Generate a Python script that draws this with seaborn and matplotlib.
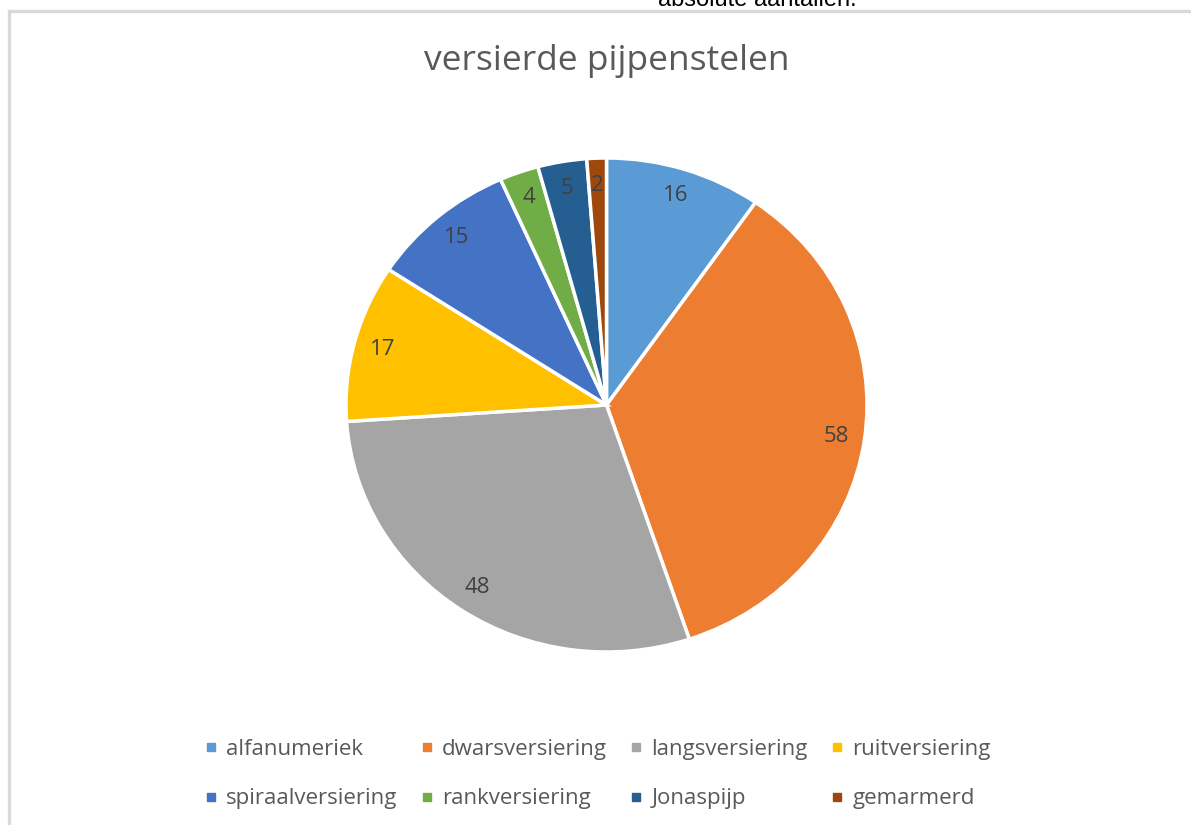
import matplotlib
matplotlib.use("Agg")
import matplotlib.pyplot as plt
from matplotlib.lines import Line2D
from matplotlib.patches import Rectangle
import seaborn as sns

categories = ["alfanumeriek", "dwarsversiering", "langsversiering", "ruitversiering",
              "spiraalversiering", "rankversiering", "Jonaspijp", "gemarmerd"]
counts = [16, 58, 48, 17, 15, 4, 5, 2]
colors = ["#5B9BD5", "#ED7D31", "#A5A5A5", "#FFC000",
          "#4472C4", "#70AD47", "#255E91", "#9E480E"]
title = "versierde pijpenstelen"
caption = "absolute aantallen."

sns.set_theme(style="white")
plt.rcParams["font.family"] = ["Open Sans", "DejaVu Sans"]
text_grey = "#595959"

W, H = 1191, 825
fig = plt.figure(figsize=(W / 100, H / 100), dpi=100)
fig.patch.set_facecolor("white")

# chart frame (top and left edges visible)
fig.patches.append(Rectangle((9 / W, -0.1), 1.2, (H - 11) / H + 0.1,
                             transform=fig.transFigure, fill=False,
                             edgecolor="#D9D9D9", linewidth=2.4, zorder=0))

# caption line above the chart frame
fig.text(757 / W, 1 - 6 / H, caption, ha="center", va="baseline",
         fontsize=17, color="black", family=["Liberation Sans", "DejaVu Sans"])

# pie area: slightly wider than tall
cx, cy, rx, ry = 606.5, 405, 260.5, 247
ax = fig.add_axes([(cx - rx) / W, (H - cy - ry) / H, 2 * rx / W, 2 * ry / H])
wedges, texts = ax.pie(counts, colors=colors, startangle=90, counterclock=False,
                       labels=[str(v) for v in counts], labeldistance=0.89,
                       wedgeprops=dict(edgecolor="white", linewidth=2.5),
                       textprops=dict(fontsize=16, color="#404040"))
for t in texts:
    t.set_ha("center")
    t.set_va("center")
ax.set_xlim(-1, 1)
ax.set_ylim(-1, 1)
ax.set_aspect("auto")
ax.axis("off")

fig.text(cx / W, 1 - 61 / H, title, ha="center", va="center",
         fontsize=25.5, color=text_grey)

handles = [Line2D([0], [0], marker="s", linestyle="none", markersize=6.2,
                  markerfacecolor=c, markeredgecolor=c) for c in colors]
order = [0, 4, 1, 5, 2, 6, 3, 7]
leg = fig.legend([handles[i] for i in order], [categories[i] for i in order],
                 ncol=4, loc="center", bbox_to_anchor=(598 / W, 1 - 774 / H),
                 frameon=False, fontsize=16, labelcolor=text_grey,
                 handlelength=0.5, handletextpad=0.45, columnspacing=1.05,
                 labelspacing=1.3)

fig.savefig("out.png", dpi=100, facecolor="white")
